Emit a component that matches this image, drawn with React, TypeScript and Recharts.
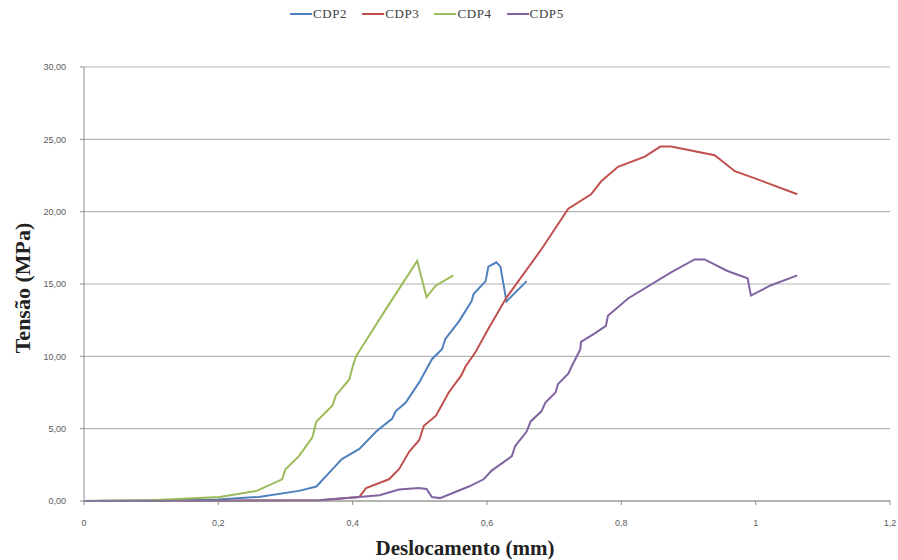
import { LineChart, Line, XAxis, YAxis, CartesianGrid } from 'recharts';

// Deslocamento (mm) / Tensão (MPa)
const cdp2X = [0, 0.1, 0.2, 0.26, 0.32, 0.346, 0.37, 0.384, 0.41, 0.435, 0.459, 0.464, 0.479, 0.499, 0.518, 0.533, 0.538, 0.558, 0.577, 0.58, 0.598, 0.602, 0.614, 0.62, 0.629, 0.659];
const cdp2Y = [0, 0.03, 0.1, 0.28, 0.7, 1.0, 2.2, 2.9, 3.6, 4.8, 5.7, 6.2, 6.8, 8.2, 9.8, 10.5, 11.2, 12.4, 13.8, 14.3, 15.2, 16.2, 16.5, 16.2, 13.8, 15.2];

const cdp3X = [0, 0.2, 0.35, 0.41, 0.42, 0.454, 0.469, 0.484, 0.499, 0.506, 0.524, 0.543, 0.562, 0.568, 0.583, 0.602, 0.617, 0.628, 0.681, 0.721, 0.755, 0.77, 0.795, 0.835, 0.858, 0.874, 0.939, 0.969, 0.999, 1.062];
const cdp3Y = [0, 0.02, 0.05, 0.28, 0.9, 1.5, 2.2, 3.4, 4.2, 5.2, 5.9, 7.5, 8.7, 9.3, 10.3, 11.9, 13.1, 14.0, 17.4, 20.2, 21.2, 22.1, 23.1, 23.8, 24.5, 24.5, 23.9, 22.8, 22.3, 21.2];

const cdp4X = [0, 0.1, 0.202, 0.257, 0.295, 0.3, 0.32, 0.34, 0.346, 0.37, 0.375, 0.395, 0.4, 0.405, 0.45, 0.496, 0.51, 0.524, 0.55];
const cdp4Y = [0, 0.05, 0.28, 0.7, 1.5, 2.2, 3.1, 4.4, 5.5, 6.6, 7.3, 8.4, 9.3, 10.0, 13.3, 16.6, 14.1, 14.9, 15.6];

const cdp5X = [0, 0.2, 0.35, 0.41, 0.44, 0.469, 0.498, 0.51, 0.518, 0.53, 0.573, 0.595, 0.607, 0.637, 0.642, 0.659, 0.665, 0.681, 0.687, 0.702, 0.706, 0.721, 0.726, 0.739, 0.74, 0.761, 0.777, 0.78, 0.81, 0.874, 0.909, 0.924, 0.958, 0.988, 0.993, 1.022, 1.062];
const cdp5Y = [0, 0.02, 0.05, 0.28, 0.4, 0.8, 0.9, 0.83, 0.28, 0.2, 1.0, 1.5, 2.1, 3.1, 3.8, 4.8, 5.5, 6.2, 6.8, 7.5, 8.1, 8.8, 9.3, 10.5, 11.0, 11.6, 12.1, 12.8, 14.0, 15.8, 16.7, 16.7, 15.9, 15.4, 14.2, 14.9, 15.6];

const xTicks = [0, 0.2, 0.4, 0.6, 0.8, 1, 1.2];
const yTicks = [0, 5, 10, 15, 20, 25, 30];

const series = [
  { name: 'CDP2', xs: cdp2X, ys: cdp2Y, color: '#4F81BD' },
  { name: 'CDP3', xs: cdp3X, ys: cdp3Y, color: '#C0504D' },
  { name: 'CDP4', xs: cdp4X, ys: cdp4Y, color: '#9BBB59' },
  { name: 'CDP5', xs: cdp5X, ys: cdp5Y, color: '#8064A2' },
];

const toRows = (xs: number[], ys: number[]) => xs.map((x, i) => ({ x, y: ys[i] }));

const comma = (v: number, d: number) => v.toFixed(d).replace('.', ',');

export default function App() {
  return (
    <div style={{ position: 'absolute', left: 0, top: 0, width: 898, height: 560, background: '#fff' }}>
      <div
        style={{
          position: 'absolute', top: 6, left: 290, display: 'flex',
          gap: 15, fontFamily: '"Liberation Serif", serif', fontSize: 13, letterSpacing: 0.6, color: '#404040',
        }}
      >
        {series.map((s) => (
          <div key={s.name} style={{ display: 'flex', alignItems: 'center' }}>
            <span style={{ display: 'inline-block', width: 22, height: 2, background: s.color, marginRight: 1 }} />
            <span>{s.name}</span>
          </div>
        ))}
      </div>
      <LineChart width={898} height={560} margin={{ top: 67, right: 8, left: 0, bottom: 0 }}>
        <CartesianGrid vertical={false} stroke="#b4b4b4" strokeWidth={1.2} />
        <XAxis
          type="number"
          dataKey="x"
          domain={[0, 1.2]}
          ticks={xTicks}
          tickFormatter={(v: number) => comma(v, v % 1 === 0 ? 0 : 1)}
          height={59}
          tickSize={4}
          tickMargin={15}
          stroke="#8c8c8c"
          tick={{ fill: '#595959', fontSize: 9, fontFamily: '"Liberation Sans", sans-serif' }}
          label={{
            value: 'Deslocamento (mm)', position: 'insideBottom', offset: 5, dx: -22,
            style: { fontFamily: '"Liberation Serif", serif', fontWeight: 'bold', fontSize: 21, fill: '#222' },
          }}
        />
        <YAxis
          type="number"
          dataKey="y"
          domain={[0, 30]}
          ticks={yTicks}
          tickFormatter={(v: number) => comma(v, 2)}
          width={84}
          tickSize={4}
          tickMargin={14}
          stroke="#8c8c8c"
          tick={{ fill: '#595959', fontSize: 9, fontFamily: '"Liberation Sans", sans-serif' }}
          label={{
            value: 'Tensão (MPa)', angle: -90, position: 'insideLeft', offset: 22, dy: 4,
            style: { textAnchor: 'middle', fontFamily: '"Liberation Serif", serif', fontWeight: 'bold', fontSize: 22, fill: '#222' },
          }}
        />
        {series.map((s) => (
          <Line
            key={s.name}
            data={toRows(s.xs, s.ys)}
            dataKey="y"
            name={s.name}
            type="linear"
            stroke={s.color}
            strokeWidth={2}
            dot={false}
            isAnimationActive={false}
          />
        ))}
      </LineChart>
    </div>
  );
}
